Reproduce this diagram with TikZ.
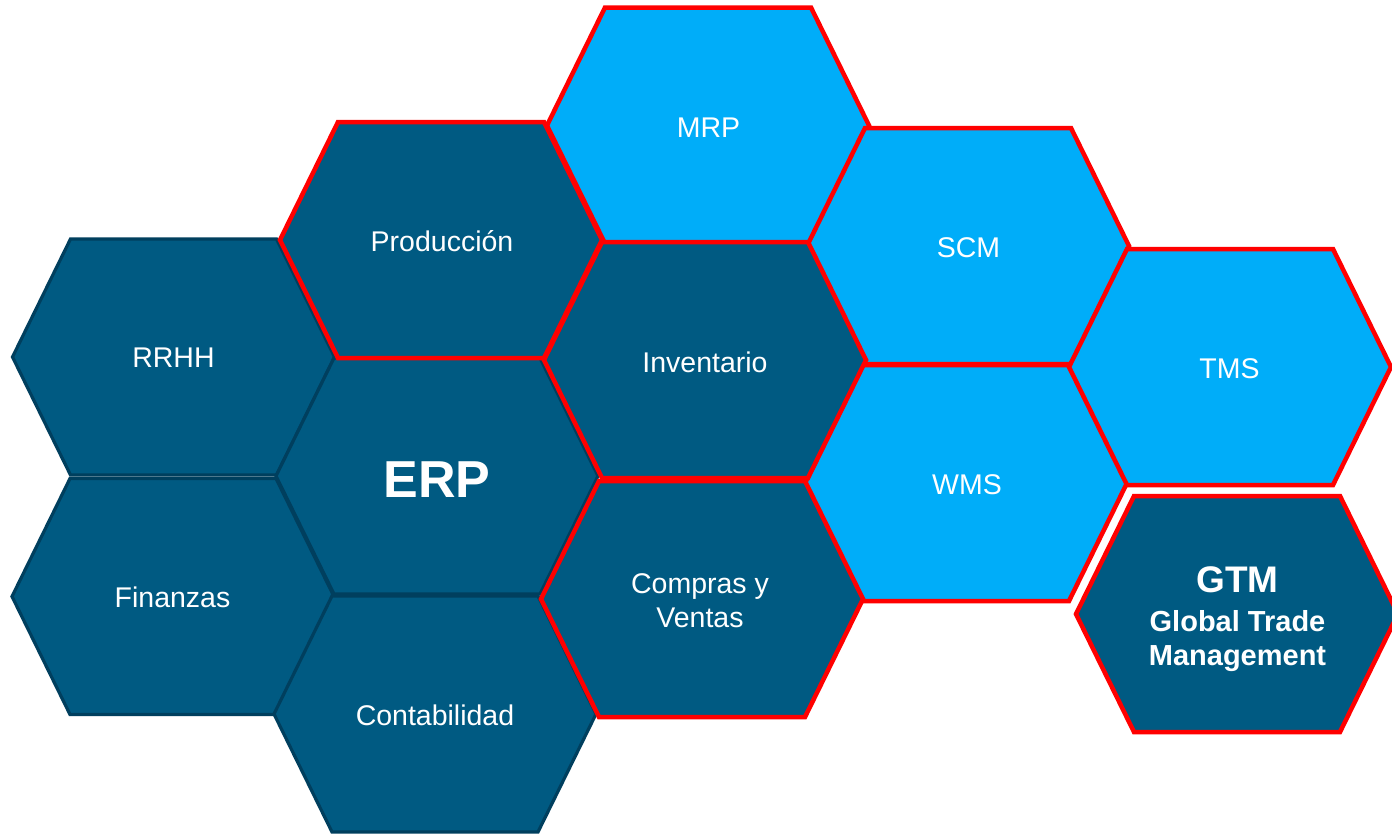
\documentclass[tikz,border=0pt]{standalone}
\usepackage{fontspec}
\setmainfont{Liberation Sans}
\definecolor{hexdark}{RGB}{0,90,130}
\definecolor{hexedge}{RGB}{0,63,94}
\definecolor{hexlight}{RGB}{0,173,249}
\definecolor{hexred}{RGB}{255,0,0}
\newcommand{\hexcell}[3]{%
  \path[#1, shift={(#2,#3)}] (-161,0) -- (-103,-118) -- (103,-118) -- (161,0) -- (103,118) -- (-103,118) -- cycle;}
\tikzset{
  darkcell/.style={fill=hexdark, draw=hexedge, line width=3.2pt, line join=miter},
  redcell/.style={fill=hexdark, draw=hexred, line width=4.5pt, line join=miter},
  lightcell/.style={fill=hexlight, draw=hexred, line width=4.5pt, line join=miter},
  hexlabel/.style={text=white, anchor=base, inner sep=0pt, font=\fontsize{28.5}{34}\selectfont},
  biglabel/.style={hexlabel, font=\bfseries\fontsize{52}{60}\selectfont},
  gtmlabel/.style={hexlabel, font=\bfseries\fontsize{29}{34}\selectfont}
}
\begin{document}
\begin{tikzpicture}[x=1pt,y=-1pt]
\clip (0,0) rectangle (1392,835);
\fill[white] (0,0) rectangle (1392,835);
% dark cells with dark borders
\hexcell{darkcell}{173.5}{357}
\hexcell{darkcell}{173}{596.5}
\hexcell{darkcell}{437}{476}
\hexcell{darkcell}{435}{714}
% light blue cells
\hexcell{lightcell}{708}{125.5}
\hexcell{lightcell}{968}{246}
\hexcell{lightcell}{966}{483}
\hexcell{lightcell}{1230}{367}
% dark cells with red borders
\hexcell{redcell}{441}{240}
\hexcell{redcell}{705}{360}
\hexcell{redcell}{702}{599}
\hexcell{redcell}{1237}{614}
% labels
\node[hexlabel] (rrhh) at (173.5,367.5) {RRHH};
\node[hexlabel] (finanzas) at (172.5,607) {Finanzas};
\node[biglabel] (erp) at (437,497) {ERP};
\node[hexlabel] (contabilidad) at (435,725) {Contabilidad};
\node[hexlabel] (produccion) at (442,251) {Producción};
\node[hexlabel] (mrp) at (708.5,137) {MRP};
\node[hexlabel] (inventario) at (705,372.5) {Inventario};
\node[hexlabel] (compras) at (700,593) {\begin{tabular}[t]{@{}c@{}}Compras y\\Ventas\end{tabular}};
\node[hexlabel] (scm) at (968.5,257.5) {SCM};
\node[hexlabel] (wms) at (967,494) {WMS};
\node[hexlabel] (tms) at (1229.5,378.5) {TMS};
\node[gtmlabel] (gtm) at (1237.5,592) {\begin{tabular}[t]{@{}c@{}}{\fontsize{37}{44}\selectfont GTM}\\[5pt]Global Trade\\Management\end{tabular}};
\end{tikzpicture}
\end{document}
